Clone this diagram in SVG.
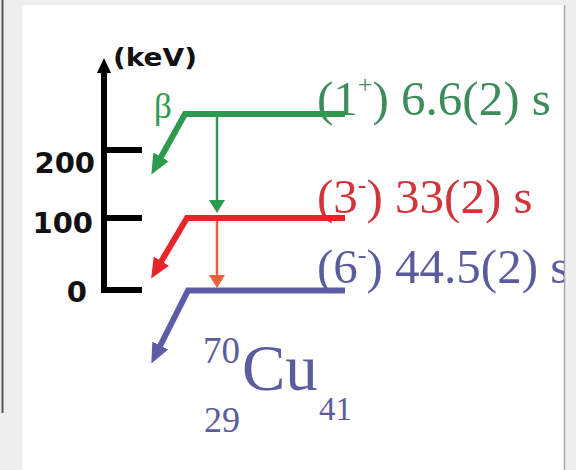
<svg xmlns="http://www.w3.org/2000/svg" width="576" height="470" viewBox="0 0 576 470">
<defs>
<style>
.lvl{fill:none;stroke-width:6;stroke-linejoin:miter}
.gam{fill:none;stroke-width:2.5}
.ser{font-family:"Liberation Serif","Times New Roman",serif}
.ax{font-family:"DejaVu Sans",Verdana,sans-serif;font-weight:bold;fill:#111}
</style>
<clipPath id="panel"><rect x="22" y="5" width="542" height="465"/></clipPath>
<marker id="bG" markerUnits="userSpaceOnUse" markerWidth="20" markerHeight="20" refX="4" refY="9" orient="auto" viewBox="0 0 18 18"><path d="M0,1 L18,9 L0,17 z" fill="#2e9a50"/></marker>
<marker id="bR" markerUnits="userSpaceOnUse" markerWidth="20" markerHeight="20" refX="4" refY="9" orient="auto" viewBox="0 0 18 18"><path d="M0,1 L18,9 L0,17 z" fill="#e8242b"/></marker>
<marker id="bB" markerUnits="userSpaceOnUse" markerWidth="20" markerHeight="20" refX="4" refY="9" orient="auto" viewBox="0 0 18 18"><path d="M0,1 L18,9 L0,17 z" fill="#5b5ea6"/></marker>
<marker id="gG" markerUnits="userSpaceOnUse" markerWidth="16" markerHeight="16" refX="3" refY="8" orient="auto" viewBox="0 0 14 16"><path d="M0,0 L13,8 L0,16 z" fill="#2e9a50"/></marker>
<marker id="gR" markerUnits="userSpaceOnUse" markerWidth="16" markerHeight="16" refX="3" refY="8" orient="auto" viewBox="0 0 14 16"><path d="M0,0 L13,8 L0,16 z" fill="#e8603c"/></marker>
</defs>
<rect x="0" y="0" width="576" height="470" fill="#eeeeee"/>
<rect x="22" y="5" width="542" height="465" fill="#ffffff"/>
<line x1="564.5" y1="5" x2="564.5" y2="470" stroke="#a8a8a8" stroke-width="1.5"/>
<line x1="2.5" y1="0" x2="2.5" y2="413" stroke="#555555" stroke-width="2"/>

<g clip-path="url(#panel)">
<g id="axis">
<path d="M104,293 L104,70 M104,150 L142,150 M104,218 L142,218 M101,290 L142,290" stroke="#000" stroke-width="6" fill="none"/>
<path d="M104,58 L111,73 L97,73 z" fill="#000"/>
<text class="ax" x="113" y="66" font-size="25" textLength="84" lengthAdjust="spacingAndGlyphs">(keV)</text>
<text class="ax" x="95" y="173" font-size="29" text-anchor="end">200</text>
<text class="ax" x="93" y="233" font-size="29" text-anchor="end">100</text>
<text class="ax" x="87" y="302" font-size="29" text-anchor="end">0</text>
</g>

<g id="level-1plus">
<text class="ser" x="317" y="115" font-size="49" fill="#3d8c5c">(1<tspan font-size="26" dy="-22">+</tspan><tspan dy="22">) 6.6(2) s</tspan></text>
<text class="ser" x="154" y="118" font-size="35" fill="#2e9a50">β</text>
</g>

<g id="level-3minus">
<text class="ser" x="317" y="213" font-size="49" fill="#d1343a">(3<tspan font-size="26" dy="-20">-</tspan><tspan dy="20">) 33(2) s</tspan></text>
</g>

<g id="level-6minus">
<text class="ser" x="317" y="283" font-size="49" fill="#5a5c9e">(6<tspan font-size="26" dy="-20">-</tspan><tspan dy="20">) 44.5(2) s</tspan></text>
</g>

<g id="nucleus">
<text class="ser" x="203" y="363" font-size="37" fill="#5a5c9e">70</text>
<text class="ser" x="242" y="390" font-size="65" fill="#5a5c9e">Cu</text>
<text class="ser" x="204" y="432" font-size="36" fill="#5a5c9e">29</text>
<text class="ser" x="319" y="420" font-size="33" fill="#5a5c9e">41</text>
</g>

<g id="connectors">
<path class="lvl" d="M345,114 L185,114 L158.9,160.8" stroke="#2e9a50" marker-end="url(#bG)"/>
<path class="lvl" d="M345,218 L187,218 L159.1,265" stroke="#e8242b" marker-end="url(#bR)"/>
<path class="lvl" d="M345,290.5 L188,290.5 L158.3,349.5" stroke="#5b5ea6" marker-end="url(#bB)"/>
<path class="gam" d="M217,117 L217,203" stroke="#2e9a50" marker-end="url(#gG)"/>
<path class="gam" d="M217,221 L217,278" stroke="#e8603c" marker-end="url(#gR)"/>
</g>
</g>
</svg>
